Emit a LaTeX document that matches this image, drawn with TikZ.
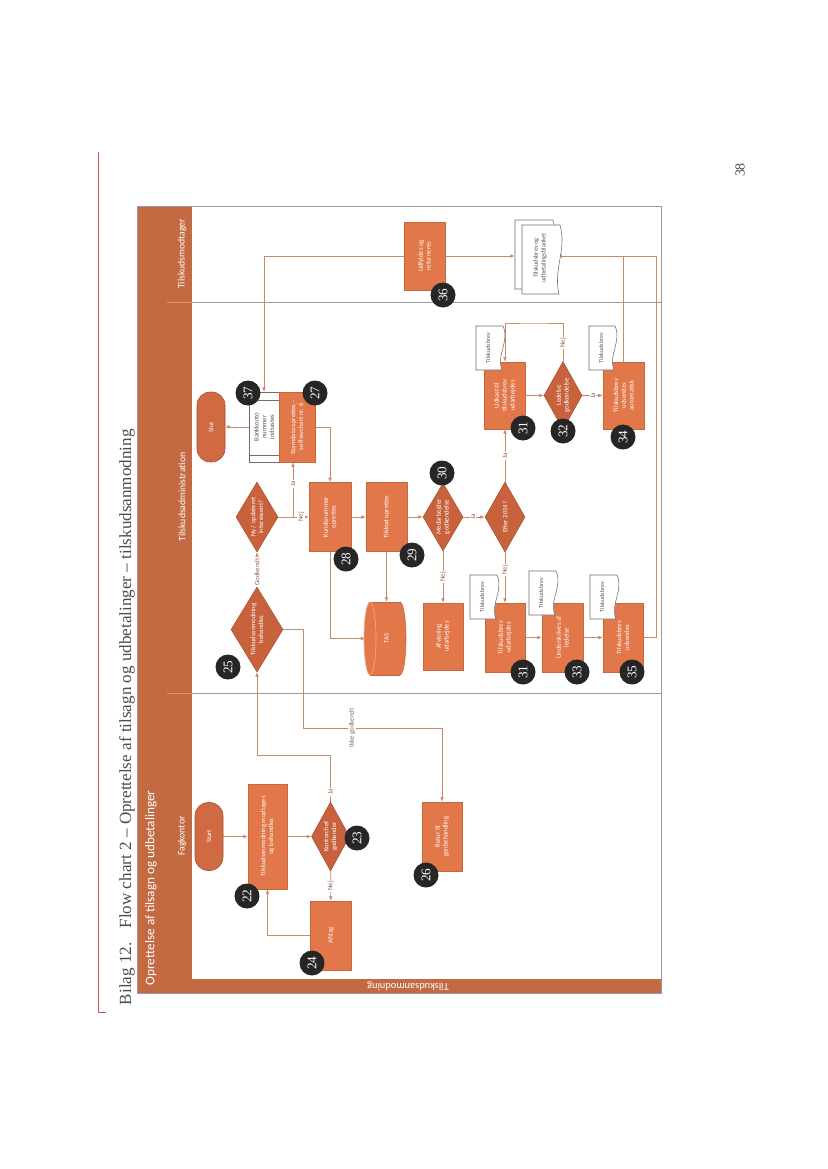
\documentclass[tikz,border=0pt]{standalone}
\usepackage{fontspec}
\setmainfont{Carlito}
\newfontfamily\serifft{Liberation Serif}
\usetikzlibrary{shapes.geometric,arrows.meta}
\definecolor{boxc}{HTML}{E2774A}
\definecolor{boxd}{HTML}{C9663C}
\definecolor{decc}{HTML}{C8623D}
\definecolor{decd}{HTML}{A9502F}
\definecolor{termc}{HTML}{CF6A42}
\definecolor{hdr}{HTML}{C46A43}
\definecolor{linec}{HTML}{C98A66}
\definecolor{framec}{HTML}{9A9A9A}
\definecolor{badgec}{HTML}{262626}
\definecolor{lblc}{HTML}{8A6A5A}
\definecolor{docd}{HTML}{6E6E6E}
\definecolor{doctc}{HTML}{555555}
\definecolor{titlec}{HTML}{4D4D4D}
\definecolor{redl}{HTML}{D9534F}
\definecolor{cylline}{HTML}{F0A585}
\pgfdeclarelayer{bg}
\pgfsetlayers{bg,main}
\newcommand\docpath[4]{(#1,#2) -- (#3,#2) .. controls ({#3+7},{#2+0.35*(#4-#2)}) and ({#3-7},{#2+0.65*(#4-#2)}) .. ({#3-1},#4) -- (#1,#4) -- cycle}
\tikzset{
  nbase/.style={rotate=90, inner sep=0pt, align=center, font=\fontsize{4.8}{5.6}\selectfont},
  sz/.style 2 args={minimum width=#1*0.72pt, minimum height=#2*0.72pt},
  proc/.style={nbase, rectangle, fill=boxc, draw=boxd, line width=0.4pt, text=white},
  dec/.style={nbase, diamond, fill=decc, draw=decd, line width=0.4pt, text=white},
  term/.style={nbase, rectangle, rounded corners=9.5pt, fill=termc, draw=decd, line width=0.4pt, text=white},
  ghost/.style={nbase, rectangle, draw=none, fill=none},
  conn/.style={draw=linec, line width=0.5pt, -{Latex[length=3.2pt,width=2.8pt]}},
  lbl/.style={rotate=90, font=\fontsize{5}{5.5}\selectfont, text=lblc, fill=white, inner sep=0.6pt},
  badge/.style={circle, fill=badgec, text=white, minimum size=18pt, inner sep=0pt, rotate=90, font=\serifft\fontsize{9.5}{9.5}\selectfont},
  doctext/.style={nbase, text=doctc, font=\fontsize{4.3}{5.2}\selectfont},
  docshape/.style={fill=white, draw=docd, line width=0.4pt},
  lane/.style={rotate=90, text=white, font=\fontsize{7}{8}\selectfont}
}
\begin{document}
\begin{tikzpicture}[x=0.72pt,y=-0.72pt]
\useasboundingbox (0,0) rectangle (828,1169);

% page furniture
\draw[redl, line width=0.5pt] (98,152) -- (98,1012) -- (106,1012);
\node[rotate=90, anchor=west, text=titlec, font=\serifft\fontsize{12.3}{14}\selectfont] (title) at (127,1010) {Bilag 12.\hspace{6pt} Flow chart 2 – Oprettelse af tilsagn og udbetalinger – tilskudsanmodning};
\node[rotate=90, text=titlec, font=\serifft\fontsize{10}{12}\selectfont] (pageno) at (740,170) {38};

% frame and bands (background layer, below connectors)
\begin{pgfonlayer}{bg}
\fill[white] (0,0) rectangle (828,1169);
\fill[hdr] (137,206) rectangle (192,993);
\fill[hdr] (137,979) rectangle (661,993);
\draw[framec, line width=0.5pt] (137,206) rectangle (661,993);
\draw[framec, line width=0.5pt] (192,302) -- (661,302) (192,693) -- (661,693);
\draw[hdr!70!white, line width=0.4pt] (167,302) -- (192,302) (167,693) -- (192,693);
\end{pgfonlayer}
\node[rotate=90, anchor=west, text=white, font=\fontsize{9.5}{11}\selectfont] (pool) at (151,990) {Oprettelse af tilsagn og udbetalinger};
\node[lane] (lfag) at (182,836) {Fagkontor};
\node[lane] (ladm) at (182,497) {Tilskudsadministration};
\node[lane] (lmod) at (182,254) {Tilskudsmodtager};
\node[rotate=180, text=white, font=\fontsize{7.5}{8}\selectfont] (pool2) at (408,986.5) {Tilskudsanmodning};

% Fagkontor
\node[term, sz={68}{28}] (start) at (209,836.5) {Start};
\node[proc, sz={105}{39}] (n22) at (267.5,836.5) {Tilskudsanmodning modtages\\og behandles};
\node[dec, sz={69}{38}, aspect=1.8] (n23) at (330.5,836.5) {Kontorchef\\godkender};
\node[proc, sz={69}{41}] (n24) at (331,935.5) {Afslag};
\node[proc, sz={69}{40}] (n26) at (442,836.5) {Retur til\\genbehandling};

% Tilskudsadministration
\node[dec, sz={85}{52}, aspect=1.65] (n25) at (257,629.5) {Tilskudsanmodning\\behandles};
\node[term, sz={70}{28}] (slut) at (211,427) {Slut};
\node[nbase, rectangle, fill=white, draw=docd, line width=0.4pt, text=doctc, sz={70}{30}] (n37) at (264,427) {Bankkonto\\nummer\\indtastes};
\draw[docd, line width=0.3pt] (249,400) -- (279,400) (249,455) -- (279,455);
\node[proc, sz={70}{36}] (n27) at (297,427) {Stamdata oprettes –\\se flowchart nr. 6};
\node[dec, sz={70}{42}, aspect=1.67] (ny) at (257,517) {Ny / opdateret\\interessent?};
\node[proc, sz={69}{42}] (n28) at (330,517) {Kundenummer\\oprettes};
\node[proc, sz={69}{41}] (n29) at (386.5,517) {Tilskud oprettes};
\node[dec, sz={68}{40}, aspect=1.7] (n30) at (443,517) {Medarbejder\\godkendelse};

% TAS cylinder
\fill[boxc] (370,602) rectangle (400,675);
\fill[boxc] (400,638.5) ellipse [x radius=6, y radius=36.5];
\begin{scope}
\clip (400,590) rectangle (410,690);
\draw[boxd, line width=0.4pt] (400,638.5) ellipse [x radius=6, y radius=36.5];
\end{scope}
\draw[boxd, line width=0.4pt] (370,602) -- (400,602) (370,675) -- (400,675);
\filldraw[fill=boxc, draw=cylline, line width=0.5pt] (370,638.5) ellipse [x radius=6, y radius=36.5];
\node[ghost, text=white, sz={73}{42}] (tas) at (386.5,638.5) {TAS};

\node[proc, sz={67}{40}] (afv) at (443,636.5) {Afvisning\\udarbejdes};
\node[dec, sz={70}{40}, aspect=1.75] (eft) at (505,517) {Efter 2014?};
\node[proc, sz={67}{41}] (n31a) at (505,395.5) {Udkast til\\tilskudsbrev\\udarbejdes};
\node[dec, sz={68}{38}, aspect=1.8] (n32) at (563,395.5) {Ledelse\\godkendelse};
\node[proc, sz={67}{41}] (n34) at (623.5,395.5) {Tilskudsbrev\\udsendes\\automatisk};
\node[proc, sz={69}{40}] (n31b) at (505,637.5) {Tilskudsbrev\\udarbejdes};
\node[proc, sz={69}{41}] (n33) at (562.5,637.5) {Underskrives af\\ledelse};
\node[proc, sz={69}{40}] (n35) at (623,637.5) {Tilskudsbrev\\udsendes};

% small documents
\filldraw[docshape] \docpath{476}{326}{503}{370};
\node[doctext, sz={44}{22}] (d31a) at (488,348) {Tilskudsbrev};
\filldraw[docshape] \docpath{589}{326}{615}{370};
\node[doctext, sz={44}{22}] (d34) at (601,348) {Tilskudsbrev};
\filldraw[docshape] \docpath{470}{575}{497}{619};
\node[doctext, sz={44}{22}] (d31b) at (482,597) {Tilskudsbrev};
\filldraw[docshape] \docpath{529}{571}{556}{615};
\node[doctext, sz={44}{22}] (d33) at (541,593) {Tilskudsbrev};
\filldraw[docshape] \docpath{590}{575}{617}{619};
\node[doctext, sz={44}{22}] (d35) at (602,597) {Tilskudsbrev};

% Tilskudsmodtager
\node[proc, sz={68}{41}] (n36) at (424.5,256) {Udfyldes og\\returneres};
\filldraw[docshape] \docpath{515}{220}{553}{289};
\filldraw[docshape] \docpath{522}{225}{560}{294};
\node[ghost, sz={68}{42}] (mdoc) at (536,256) {};
\node[doctext, font=\fontsize{4.6}{5.6}\selectfont] (mdoct) at (540,258) {Tilskudsbrev og\\udbetalingsblanket};

% helper coordinates
\coordinate (c1) at (257,755);
\coordinate (c2) at (303,728);
\coordinate (c3) at (293,517);
\coordinate (c4) at (534,323);
\coordinate (c6) at (656,256);

% connectors
\begin{pgfonlayer}{bg}
\draw[conn] (start) -- (n22);
\draw[conn] (n22) -- (n23);
\draw[conn] (n23) -- (n24);
\draw[conn] (n24) -| (n22);
\draw[conn] (n23) |- (c1) -- (n25);
\draw[conn] (n25) -- (ny);
\draw[conn] (n25) -| (c2) -| (n26);
\draw[conn] (ny) -- (n28);
\draw[conn] (ny) -- (c3) -- (c3 |- n27.west);
\draw[conn] (n27) -| (n28);
\draw[conn] (n37) -- (slut);
\draw[conn] (n28) -- (n29);
\draw[conn] (n29) -- (n30);
\draw[conn] (n28) |- (tas);
\draw[conn] (n29) -- (tas);
\draw[conn] (n30) -- (afv);
\draw[conn] (n30) -- (eft);
\draw[conn] (eft) -- (n31a);
\draw[conn] (eft) -- (n31b);
\draw[conn] (n31a) -- (n32);
\draw[conn] (n32) -- (n34);
\draw[conn] (n32) |- (c4) -| (n31a);
\draw[conn] (n31b) -- (n33);
\draw[conn] (n33) -- (n35);
\draw[conn] (n35) -| (c6) -- (mdoc);
\draw[conn] (n34) |- (mdoc);
\draw[conn] (n36) -- (mdoc);
\draw[conn] (n36) -| (n37);
\end{pgfonlayer}

% connector labels
\node[lbl] (l1) at (330.5,792) {Ja};
\node[lbl] (l2) at (330.5,886) {Nej};
\node[lbl] (l3) at (257,572) {Godkendt};
\node[lbl] (l4) at (352,728) {Ikke godkendt};
\node[lbl] (l5) at (301,517) {Nej};
\node[lbl] (l6) at (293,484) {Ja};
\node[lbl] (l7) at (443,577) {Nej};
\node[lbl] (l8) at (473,517) {Ja};
\node[lbl] (l9) at (505,456) {Ja};
\node[lbl] (l10) at (505,570) {Nej};
\node[lbl] (l11) at (593,395.5) {Ja};
\node[lbl] (l12) at (563,343) {Nej};

% number badges
\node[badge] (b22) at (247,896) {22};
\node[badge] (b23) at (357,838) {23};
\node[badge] (b24) at (312,963) {24};
\node[badge] (b25) at (228,667) {25};
\node[badge] (b26) at (426,875) {26};
\node[badge] (b37) at (248,393) {37};
\node[badge] (b27) at (315,393) {27};
\node[badge] (b28) at (346,559) {28};
\node[badge] (b29) at (412,555) {29};
\node[badge] (b30) at (442,473) {30};
\node[badge] (b31a) at (523,428) {31};
\node[badge] (b32) at (563,431) {32};
\node[badge] (b34) at (623,437) {34};
\node[badge] (b31b) at (523,672) {31};
\node[badge] (b33) at (577,672) {33};
\node[badge] (b35) at (632,672) {35};
\node[badge] (b36) at (443,295) {36};
\end{tikzpicture}
\end{document}
